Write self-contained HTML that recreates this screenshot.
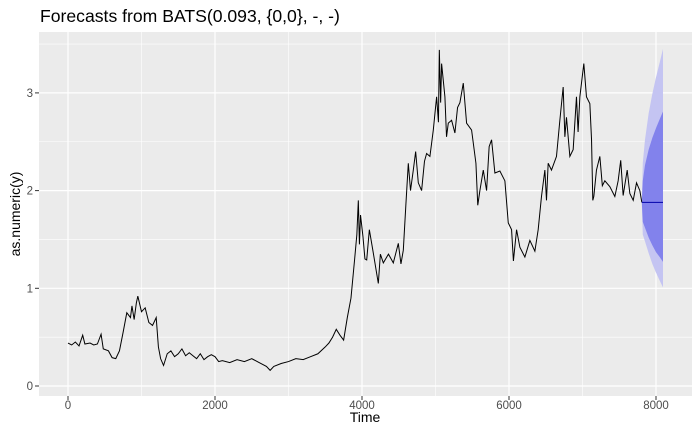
<!DOCTYPE html>
<html><head><meta charset="utf-8"><style>
body{margin:0;background:#fff;}
svg{display:block;font-family:"Liberation Sans",Arial,sans-serif;}
</style></head><body>
<svg id="chart" width="700" height="432">
<rect x="0" y="0" width="700" height="432" fill="#fff"/>
<text x="40" y="22" font-size="17.6" fill="#000">Forecasts from BATS(0.093, {0,0}, -, -)</text>
<rect x="39" y="32" width="653" height="364" fill="#ebebeb"/>
<g id="grid"></g>
<g id="bands"></g>
<g id="series"></g>
<g id="axes"></g>
<text x="365" y="422" font-size="14" text-anchor="middle" fill="#000">Time</text>
<text transform="translate(20,214) rotate(-90)" font-size="14" text-anchor="middle" fill="#000">as.numeric(y)</text>
</svg>
<script>
const xTicks=[0,2000,4000,6000,8000];
const yTicks=[0,1,2,3];
const times=[0,50,100,150,200,230,300,350,400,450,480,550,600,650,700,750,800,850,870,900,930,950,1000,1050,1100,1150,1200,1230,1260,1300,1350,1400,1450,1500,1550,1600,1650,1700,1750,1800,1850,1900,1950,2000,2050,2100,2200,2300,2400,2500,2600,2700,2750,2800,2900,3000,3100,3200,3300,3400,3500,3550,3600,3650,3700,3750,3800,3850,3900,3930,3950,3965,3980,4013,4040,4064,4100,4154,4222,4250,4290,4360,4426,4494,4530,4562,4598,4630,4660,4698,4730,4766,4811,4850,4879,4924,4970,5015,5040,5052,5070,5083,5128,5150,5174,5219,5264,5300,5332,5378,5423,5491,5550,5575,5604,5650,5695,5730,5763,5808,5876,5944,5990,6035,6060,6103,6148,6216,6284,6352,6397,6442,6488,6510,6533,6578,6646,6692,6737,6760,6782,6828,6873,6918,6940,6964,7018,7054,7100,7123,7140,7154,7190,7236,7270,7304,7372,7440,7485,7520,7553,7608,7644,7690,7735,7780,7807];
const values=[0.44,0.42,0.45,0.41,0.52,0.43,0.44,0.42,0.43,0.53,0.38,0.36,0.29,0.28,0.36,0.55,0.75,0.70,0.82,0.68,0.85,0.92,0.76,0.80,0.65,0.62,0.70,0.40,0.28,0.21,0.33,0.36,0.30,0.33,0.38,0.31,0.34,0.31,0.28,0.33,0.27,0.30,0.32,0.30,0.25,0.26,0.24,0.27,0.25,0.28,0.24,0.20,0.16,0.20,0.23,0.25,0.28,0.27,0.30,0.33,0.40,0.44,0.50,0.58,0.52,0.47,0.70,0.90,1.30,1.55,1.90,1.45,1.75,1.53,1.30,1.29,1.60,1.36,1.05,1.35,1.26,1.35,1.26,1.46,1.25,1.39,1.87,2.28,2.00,2.21,2.40,2.08,2.00,2.30,2.38,2.35,2.62,2.96,2.70,3.44,2.90,3.30,2.96,2.55,2.69,2.72,2.59,2.85,2.90,3.10,2.69,2.62,2.28,1.85,2.00,2.21,2.00,2.45,2.52,2.18,2.20,2.10,1.67,1.60,1.28,1.60,1.42,1.32,1.49,1.38,1.60,1.94,2.21,1.90,2.28,2.21,2.35,2.72,3.06,2.55,2.75,2.35,2.42,2.96,2.60,2.96,3.30,2.96,2.89,2.52,1.90,1.94,2.21,2.35,2.05,2.10,2.04,1.94,2.10,2.31,1.95,2.21,1.97,1.90,2.08,2.00,1.88];
const fcTimes=[7807,7820,7850,7900,7950,8000,8050,8095];
const fcMean=[1.88,1.88,1.88,1.88,1.88,1.88,1.88,1.88];
const hi95=[1.88,2.28,2.52,2.79,2.99,3.16,3.31,3.45];
const lo95=[1.88,1.55,1.48,1.36,1.25,1.16,1.08,1.01];
const hi80=[1.88,2.10,2.26,2.42,2.54,2.64,2.73,2.81];
const lo80=[1.88,1.68,1.62,1.52,1.44,1.37,1.32,1.27];

const NS='http://www.w3.org/2000/svg';
const xs=t=>68+t*0.0735;
const ys=v=>386-v*97.7;
function mk(tag,attrs,parent){const e=document.createElementNS(NS,tag);for(const k in attrs)e.setAttribute(k,attrs[k]);parent.appendChild(e);return e;}
const grid=document.getElementById('grid'),axes=document.getElementById('axes');
for(let v=0.5;v<=3.5;v+=1){const g=mk('line',{x1:39,x2:692,y1:ys(v),y2:ys(v),stroke:'#fff','stroke-width':0.6},grid);

}
for(let t=1000;t<=7000;t+=2000){const g=mk('line',{x1:xs(t),x2:xs(t),y1:32,y2:396,stroke:'#fff','stroke-width':0.6},grid);

}
yTicks.forEach(v=>{const g=mk('line',{x1:39,x2:692,y1:ys(v),y2:ys(v),stroke:'#fff','stroke-width':1.2},grid);


const tk=mk('line',{x1:35,x2:39,y1:ys(v),y2:ys(v),stroke:'#333','stroke-width':1},axes);


const l=mk('text',{x:33,y:ys(v)+4,'font-size':11.5,'text-anchor':'end',fill:'#4d4d4d'},axes);l.textContent=v;

});
xTicks.forEach(t=>{const g=mk('line',{x1:xs(t),x2:xs(t),y1:32,y2:396,stroke:'#fff','stroke-width':1.2},grid);


const tk=mk('line',{x1:xs(t),x2:xs(t),y1:396,y2:400,stroke:'#333','stroke-width':1},axes);


const l=mk('text',{x:xs(t),y:409,'font-size':11.5,'text-anchor':'middle',fill:'#4d4d4d'},axes);l.textContent=t;

});
function band(hi,lo,color,name){let d='M'+fcTimes.map((t,i)=>xs(t)+','+ys(hi[i])).join('L');
for(let i=fcTimes.length-1;i>=0;i--)d+='L'+xs(fcTimes[i])+','+ys(lo[i]);
const p=mk('path',{d:d+'Z',fill:color},document.getElementById('bands'));

}
band(hi95,lo95,'#c4c4f2','band-95');
band(hi80,lo80,'#8282ec','band-80');
const ser=document.getElementById('series');
const line=mk('polyline',{points:times.map((t,i)=>xs(t)+','+ys(values[i])).join(' '),fill:'none',stroke:'#000','stroke-width':1},ser);


const fl=mk('polyline',{points:fcTimes.map((t,i)=>xs(t)+','+ys(fcMean[i])).join(' '),fill:'none',stroke:'#0000aa','stroke-width':1},ser);


</script>
</body></html>
